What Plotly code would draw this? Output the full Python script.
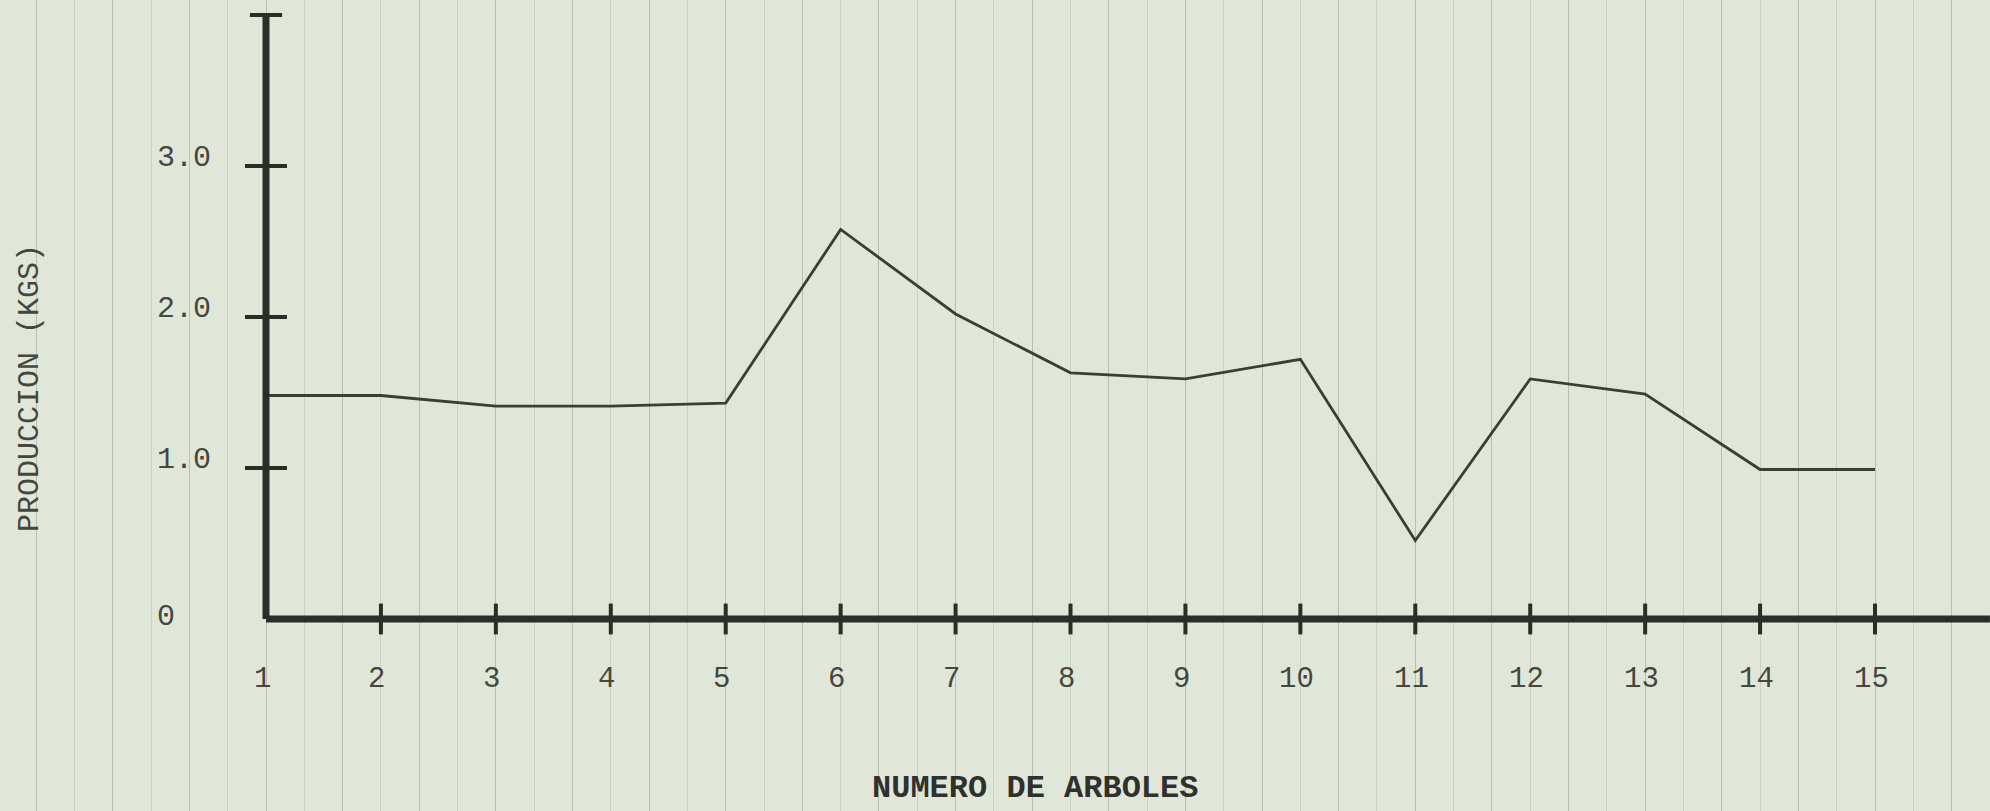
import plotly.graph_objects as go

# Data
arboles = list(range(1, 16))
produccion = [1.48, 1.48, 1.41, 1.41, 1.43, 2.58, 2.02, 1.63, 1.59, 1.72, 0.52, 1.59, 1.49, 0.99, 0.99]
x_tick_labels = [str(i) for i in arboles]
y_tick_values = [0, 1, 2, 3]
y_tick_labels = ["0", "1.0", "2.0", "3.0"]

x_title = "NUMERO DE ARBOLES"
y_title = "PRODUCCION (KGS)"

paper = "#e0e7d9"
mono = "Liberation Mono, Courier New, monospace"

fig = go.Figure()

# axes drawn as thick lines
fig.add_shape(type="line", xref="x", yref="y", x0=1, y0=0, x1=16.0, y1=0,
              line=dict(color="#2a2d28", width=7))
fig.add_shape(type="line", xref="x", yref="y", x0=1, y0=0, x1=1, y1=4,
              line=dict(color="#2a2d28", width=7))

# data line
fig.add_trace(go.Scatter(x=arboles, y=produccion, mode="lines",
                         line=dict(color="#3a3d38", width=2.8), hoverinfo="x+y",
                         showlegend=False))

# x tick crosses
fig.add_trace(go.Scatter(x=arboles[1:], y=[0] * (len(arboles) - 1), mode="markers",
                         marker=dict(symbol="line-ns", size=22,
                                     line=dict(color="#2a2d28", width=4)),
                         hoverinfo="skip", showlegend=False))
# y tick crosses
fig.add_trace(go.Scatter(x=[1] * 3, y=y_tick_values[1:], mode="markers",
                         marker=dict(symbol="line-ew", size=30,
                                     line=dict(color="#2a2d28", width=4)),
                         hoverinfo="skip", showlegend=False))
# top cap of y axis
fig.add_trace(go.Scatter(x=[1], y=[4], mode="markers",
                         marker=dict(symbol="line-ew", size=23,
                                     line=dict(color="#2a2d28", width=4)),
                         hoverinfo="skip", showlegend=False))

annotations = []
for xv, lab in zip(arboles, x_tick_labels):
    annotations.append(dict(x=xv, y=-0.40, xref="x", yref="y", text=lab, showarrow=False,
                            xshift=-4, font=dict(family=mono, size=29, color="#45473f")))
for yv, lab in zip(y_tick_values, y_tick_labels):
    annotations.append(dict(x=0.035, y=yv, xref="x", yref="y", text=lab, showarrow=False,
                            xanchor="left", yshift=8 if yv else 2,
                            font=dict(family=mono, size=30, color="#45473f")))
annotations.append(dict(x=-1.053, y=1.53, xref="x", yref="y", text=y_title, showarrow=False,
                        textangle=-90, font=dict(family=mono, size=30, color="#45473f")))
annotations.append(dict(x=7.69, y=-1.125, xref="x", yref="y", text="<b>" + x_title + "</b>",
                        showarrow=False, font=dict(family=mono, size=32, color="#2f312c")))

fig.update_layout(
    width=1990, height=811,
    margin=dict(l=0, r=0, t=0, b=0),
    paper_bgcolor=paper, plot_bgcolor=paper,
    annotations=annotations,
    xaxis=dict(range=[-1.3145, 16.0006], showticklabels=False, ticks="",
               zeroline=False, showline=False,
               showgrid=True, tick0=1, dtick=2 / 3, gridcolor="rgba(110,115,105,0.35)", gridwidth=1,
               minor=dict(showgrid=True, tick0=1, dtick=1 / 3, gridcolor="rgba(110,115,105,0.18)",
                          gridwidth=1)),
    yaxis=dict(range=[-1.2715, 4.0993], showticklabels=False, ticks="",
               zeroline=False, showline=False, showgrid=False),
    showlegend=False,
)

fig.write_html("out.html", config={"displayModeBar": False},
               post_script="document.body.style.margin='0';document.body.style.overflow='hidden';")
